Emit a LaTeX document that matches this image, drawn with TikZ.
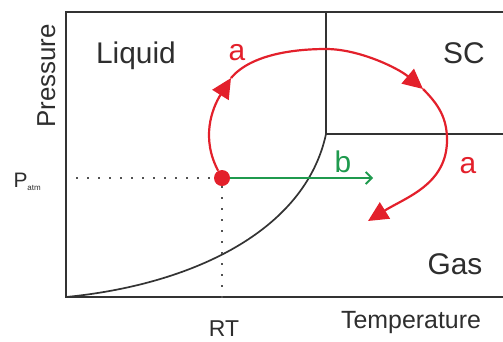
\documentclass[tikz,border=0pt]{standalone}
\usepackage{fontspec}
\setmainfont{Liberation Sans}
\usetikzlibrary{arrows.meta}
\definecolor{PhRed}{HTML}{E3202B}
\definecolor{PhGreen}{HTML}{1F9A4E}
\definecolor{PhLine}{HTML}{333333}
\definecolor{PhText}{HTML}{2E2E2E}
\newcommand{\fsz}[1]{\fontsize{#1}{#1}\selectfont}

\begin{document}
\begin{tikzpicture}[x=1bp,y=-1bp,
  region/.style={text=PhText,anchor=base,font=\fsz{30}},
  axislabel/.style={text=PhText,anchor=base,font=\fsz{25}},
  pathlabel/.style={anchor=base,font=\fsz{30}},
  guide/.style={PhLine!85,line width=2.4bp,dash pattern=on 1.6bp off 9.4bp},
  redpath/.style={PhRed,line width=2.2bp,-{Triangle[length=20bp,width=19bp]}}]
  \useasboundingbox (0,0) rectangle (503,341);
  % frame and phase boundaries
  \draw[PhLine,line width=2.2bp] (503,12) -- (66,12) -- (66,297) -- (503,297);
  \draw[PhLine,line width=1.7bp] (326,12) -- (326,134) -- (503,134);
  \draw[PhLine,line width=1.7bp] (66,297) .. controls (190,285) and (305,232) .. (326,134);
  % labels
  \node[region] (liq) at (136,63) {Liquid};
  \node[region] (sc) at (464,63) {SC};
  \node[region] (gas) at (455,274) {Gas};
  \node[axislabel,rotate=90,font=\fsz{26}] (pres) at (55,76) {Pressure};
  \node[axislabel] (temp) at (411,328) {Temperature};
  \node[axislabel,font=\fsz{23},inner sep=0pt] (rtlab) at (224,336) {RT};
  \node[text=PhText,anchor=base west,font=\fsz{21}] (patmlab) at (10,187)
    {P\raisebox{-3bp}{\fsz{8}atm}};
  % room temperature, atmospheric pressure
  \node[circle,fill=PhRed,inner sep=0pt,minimum size=16bp] (rt) at (222,178) {};
  \coordinate (patm) at (76,178);
  \coordinate (rtaxis) at (222,306);
  \draw[guide] (patm) -- (rt);
  \draw[guide] (rt) -- (rtaxis);
  % route b
  \coordinate (bend) at (373,178);
  \draw[PhGreen,line width=1.8bp,-{Straight Barb[length=6bp,width=12bp]}] (rt) -- (bend);
  \node[pathlabel,text=PhGreen] (blab) at (343,172) {b};
  % route a
  \coordinate (a1) at (231,78);
  \coordinate (atop) at (326,49);
  \coordinate (a2) at (423,89);
  \coordinate (aright) at (447,140);
  \coordinate (a3) at (368,221);
  \draw[redpath] (rt) to[out=118,in=238] (a1);
  \draw[redpath] (a1) to[out=50,in=180,looseness=0.8] (atop)
    to[out=0,in=140,looseness=0.8] (a2);
  \draw[redpath] (a2) to[out=-45,in=90] (aright) to[out=-90,in=32] (a3);
  \node[pathlabel,text=PhRed] (alab1) at (237,60) {a};
  \node[pathlabel,text=PhRed] (alab2) at (468,173) {a};
\end{tikzpicture}
\end{document}
